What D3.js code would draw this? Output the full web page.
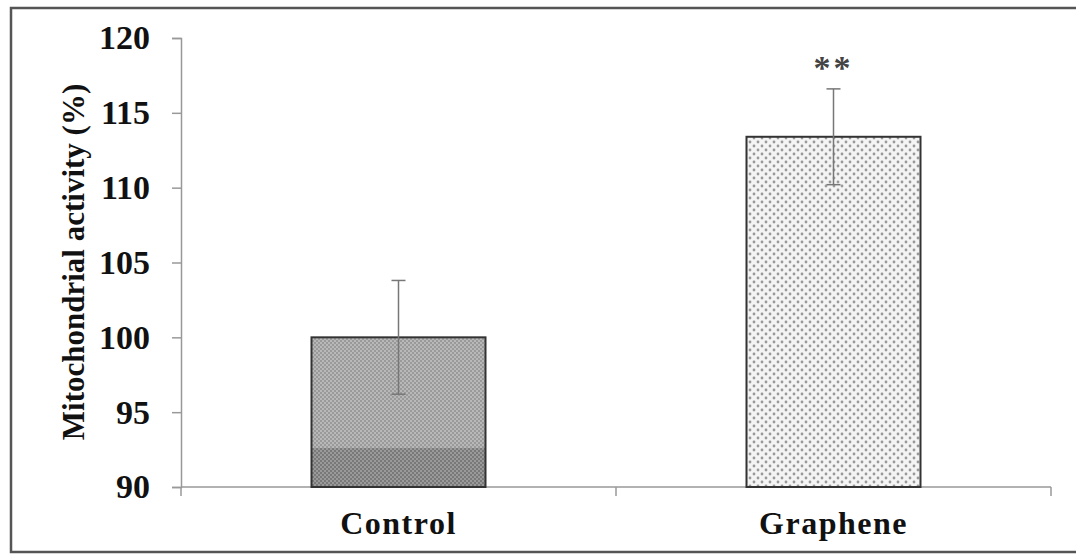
<!DOCTYPE html>
<html>
<head>
<meta charset="utf-8">
<script src="https://cdn.jsdelivr.net/npm/d3@7"></script>
<style>
  body { margin: 0; background: #fff; }
  svg { display: block; }
</style>
</head>
<body>
<svg class="svg" width="1076" height="554"></svg>
<script>
let categories = ['Control', 'Graphene'];
let values = [100, 113.4];
let errors = [3.8, 3.2];
let marks = ['', '**'];
let yTicks = [90, 95, 100, 105, 110, 115, 120];
let yLabel = 'Mitochondrial activity (%)';

let width = 1076, height = 554;
let margin = {left: 181, right: 25, top: 38, bottom: 67};
let fontFam = '"Liberation Serif", "Times New Roman", serif';

let svg = d3.select('.svg');

// patterns
let defs = svg.append('defs');
let p1 = defs.append('pattern').attr('id', 'pCtrl').attr('patternUnits', 'userSpaceOnUse')
    .attr('width', 4).attr('height', 4);
p1.append('rect').attr('width', 4).attr('height', 4).attr('fill', '#b8b8b8');
p1.append('circle').attr('cx', 1).attr('cy', 1).attr('r', 0.9).attr('fill', '#8c8c8c');
p1.append('circle').attr('cx', 3).attr('cy', 3).attr('r', 0.9).attr('fill', '#8c8c8c');

let p1d = defs.append('pattern').attr('id', 'pCtrlDark').attr('patternUnits', 'userSpaceOnUse')
    .attr('width', 4).attr('height', 4);
p1d.append('rect').attr('width', 4).attr('height', 4).attr('fill', '#9a9a9a');
p1d.append('circle').attr('cx', 1).attr('cy', 1).attr('r', 1).attr('fill', '#6e6e6e');
p1d.append('circle').attr('cx', 3).attr('cy', 3).attr('r', 1).attr('fill', '#6e6e6e');

let p2 = defs.append('pattern').attr('id', 'pGra').attr('patternUnits', 'userSpaceOnUse')
    .attr('width', 8).attr('height', 8);
p2.append('rect').attr('width', 8).attr('height', 8).attr('fill', '#f4f4f4');
p2.append('circle').attr('cx', 2).attr('cy', 2).attr('r', 1.4).attr('fill', '#999');
p2.append('circle').attr('cx', 6).attr('cy', 6).attr('r', 1.4).attr('fill', '#999');

let patterns = ['url(#pCtrl)', 'url(#pGra)'];

// outer frame
svg.append('rect').attr('x', 11).attr('y', 8).attr('width', 1080).attr('height', 544)
    .attr('fill', 'none').attr('stroke', '#555').attr('stroke-width', 2.5);

let x = d3.scaleBand().domain(categories)
    .range([margin.left, width - margin.right]).paddingInner(0.6).paddingOuter(0.3);
let y = d3.scaleLinear().domain([90, 120]).range([height - margin.bottom, margin.top]);

// y axis
let yAxis = svg.append('g').attr('transform', 'translate(' + margin.left + ',0)')
    .call(d3.axisLeft(y).tickValues(yTicks).tickSize(9).tickPadding(22));
yAxis.selectAll('path, line').attr('stroke', '#999').attr('stroke-width', 1.5);
yAxis.selectAll('text').style('font-family', fontFam).style('font-weight', 'bold')
    .style('font-size', '34px').attr('fill', '#111');

// x axis
let bounds = [margin.left, (margin.left + width - margin.right) / 2, width - margin.right];
let xAxis = svg.append('g').attr('transform', 'translate(0,' + y(90) + ')');
xAxis.append('line').attr('x1', bounds[0]).attr('x2', bounds[2])
    .attr('stroke', '#999').attr('stroke-width', 1.5);
xAxis.selectAll('.tk').data(bounds).enter().append('line')
    .attr('x1', d => d).attr('x2', d => d).attr('y1', 0).attr('y2', 9)
    .attr('stroke', '#999').attr('stroke-width', 1.5);
xAxis.selectAll('.lbl').data(categories).enter().append('text')
    .attr('x', d => x(d) + x.bandwidth() / 2).attr('y', 47)
    .attr('text-anchor', 'middle')
    .style('font-family', fontFam).style('font-weight', 'bold').style('font-size', '32px')
    .style('letter-spacing', '1.5px')
    .attr('fill', '#111').text(d => d);

// bars
svg.selectAll('.bar').data(categories).enter().append('rect')
    .attr('x', d => x(d)).attr('width', x.bandwidth())
    .attr('y', (d, i) => y(values[i])).attr('height', (d, i) => y(90) - y(values[i]))
    .attr('fill', (d, i) => patterns[i]);
// darker lower band of the control bar
svg.append('rect').attr('x', x(categories[0])).attr('width', x.bandwidth())
    .attr('y', y(92.6)).attr('height', y(90) - y(92.6)).attr('fill', 'url(#pCtrlDark)');
svg.selectAll('.barOut').data(categories).enter().append('rect')
    .attr('x', d => x(d)).attr('width', x.bandwidth())
    .attr('y', (d, i) => y(values[i])).attr('height', (d, i) => y(90) - y(values[i]))
    .attr('fill', 'none').attr('stroke', '#333').attr('stroke-width', 2);

// error bars
let eb = svg.selectAll('.err').data(categories).enter().append('g');
eb.append('line').attr('x1', d => x(d) + x.bandwidth() / 2).attr('x2', d => x(d) + x.bandwidth() / 2)
    .attr('y1', (d, i) => y(values[i] + errors[i])).attr('y2', (d, i) => y(values[i] - errors[i]))
    .attr('stroke', '#777').attr('stroke-width', 1.5);
[1, -1].forEach(s => {
    eb.append('line').attr('x1', d => x(d) + x.bandwidth() / 2 - 7).attr('x2', d => x(d) + x.bandwidth() / 2 + 7)
        .attr('y1', (d, i) => y(values[i] + s * errors[i])).attr('y2', (d, i) => y(values[i] + s * errors[i]))
        .attr('stroke', '#777').attr('stroke-width', 1.5);
});

// significance marks
svg.selectAll('.mark').data(categories).enter().append('text')
    .attr('x', d => x(d) + x.bandwidth() / 2).attr('y', (d, i) => y(values[i] + errors[i]) - 10)
    .attr('text-anchor', 'middle')
    .style('font-family', fontFam).style('font-weight', 'bold').style('font-size', '34px')
    .style('letter-spacing', '3px')
    .attr('fill', '#444').text((d, i) => marks[i]);

// y label
svg.append('text').attr('transform', 'translate(84,262) rotate(-90)')
    .attr('text-anchor', 'middle')
    .style('font-family', fontFam).style('font-weight', 'bold').style('font-size', '31px')
    .attr('fill', '#111').text(yLabel);
</script>
</body>
</html>
